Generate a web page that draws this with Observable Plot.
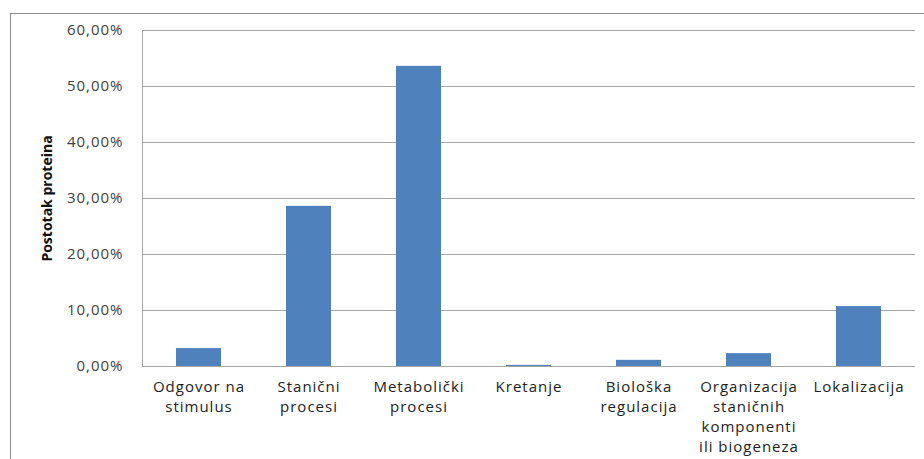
<!DOCTYPE html>
<html>
<head>
<meta charset="utf-8">
<script src="https://cdn.jsdelivr.net/npm/d3@7"></script>
<script src="https://cdn.jsdelivr.net/npm/@observablehq/plot@0.6"></script>
<style>
  html, body { margin: 0; padding: 0; background: #fff; }
  #wrap { position: relative; width: 924px; height: 459px; overflow: hidden; }
  #border { position: absolute; left: 10px; top: 13px; width: 940px; height: 480px; border: 1.5px solid #8c8c8c; box-sizing: border-box; }
  #chart { position: absolute; left: 0; top: 0; }
  svg { font-family: "Open Sans", Lato, sans-serif; }
  svg text { letter-spacing: 1px; }
  svg g[aria-label="text"] text { letter-spacing: 0px; }
</style>
</head>
<body>
<div id="wrap"><div id="border"></div><div id="chart"></div></div>
<script>
const categories = ["Odgovor na stimulus", "Stanični procesi", "Metabolički procesi", "Kretanje", "Biološka regulacija", "Organizacija staničnih komponenti ili biogeneza", "Lokalizacija"];
const tickLabels = ["Odgovor na\nstimulus", "Stanični\nprocesi", "Metabolički\nprocesi", "Kretanje", "Biološka\nregulacija", "Organizacija\nstaničnih\nkomponenti\nili biogeneza", "Lokalizacija"];
const values = [0.032, 0.286, 0.536, 0.002, 0.011, 0.023, 0.107];
const yTicks = [0, 0.1, 0.2, 0.3, 0.4, 0.5, 0.6];
const yLabel = "Postotak proteina";

const data = categories.map((c, i) => ({category: c, value: values[i]}));
const labelOf = new Map(categories.map((c, i) => [c, tickLabels[i]]));
const fmt = v => (v * 100).toFixed(2).replace(".", ",") + "%";

const chart = Plot.plot({
  width: 924,
  height: 459,
  marginLeft: 142,
  marginRight: 9,
  marginTop: 30,
  marginBottom: 93,
  style: {background: "transparent", fontSize: "15px", color: "#333"},
  x: {domain: categories, paddingInner: 0.59, paddingOuter: 0.295, label: null},
  y: {domain: [0, 0.6], label: null},
  marks: [
    Plot.gridY(yTicks, {stroke: "#a6a6a6", strokeOpacity: 1, strokeWidth: 1}),
    Plot.barY(data, {x: "category", y: "value", fill: "#4f81bd"}),
    Plot.frame({anchor: "left", stroke: "#a6a6a6"}),
    Plot.ruleY([0], {stroke: "#a6a6a6"}),
    Plot.axisY(yTicks, {tickFormat: fmt, tickSize: 0, tickPadding: 19, fontSize: 15, fill: "#404040", label: null}),
    Plot.axisX({tickFormat: d => labelOf.get(d), tickSize: 0, tickPadding: 11, fontSize: 15, fill: "#222", lineHeight: 1.33, label: null}),
    Plot.text([yLabel], {frameAnchor: "left", textAnchor: "middle", rotate: -90, dx: -95, fontWeight: "bold", fontSize: 14, fill: "#111"})
  ]
});
document.getElementById("chart").appendChild(chart);
</script>
</body>
</html>
